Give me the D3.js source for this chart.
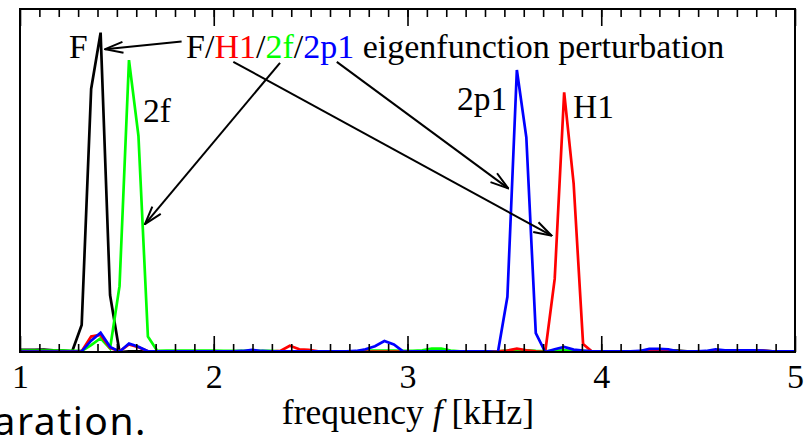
<!DOCTYPE html>
<html>
<head>
<meta charset="utf-8">
<script src="https://cdn.jsdelivr.net/npm/d3@7"></script>
<style>
  body { margin: 0; background: #fff; }
  svg { display: block; }
  .serif { font-family: "Liberation Serif", "DejaVu Serif", serif; }
</style>
</head>
<body>
<svg id="chart" width="812" height="437"></svg>
<script>
// FFT bins (48.828 Hz resolution), bin index 20..103
const binHz = 48.828125;
const bins = d3.range(20, 104);

// amplitude of each eigenfunction perturbation, one value per bin (arbitrary units)
const seriesF = [
  0.006, 0.006, 0.006, 0.007, 0.005, 0.004, 0.002, 0.079, 0.767, 0.931,
  0.166, 0.000, 0.002, 0.002, 0.002, 0.002, 0.002, 0.002, 0.002, 0.002,
  0.002, 0.002, 0.002, 0.002, 0.002, 0.002, 0.002, 0.002, 0.002, 0.002,
  0.002, 0.002, 0.002, 0.002, 0.002, 0.002, 0.002, 0.002, 0.002, 0.002,
  0.002, 0.002, 0.002, 0.002, 0.002, 0.002, 0.002, 0.002, 0.002, 0.002,
  0.002, 0.002, 0.002, 0.002, 0.002, 0.002, 0.002, 0.002, 0.002, 0.002,
  0.002, 0.002, 0.002, 0.002, 0.002, 0.002, 0.002, 0.004, 0.005, 0.004,
  0.004, 0.002, 0.002, 0.002, 0.002, 0.002, 0.002, 0.002, 0.002, 0.002,
  0.002, 0.002, 0.002, 0.002
];
const seriesH1 = [
  0.001, 0.001, 0.001, 0.001, 0.001, 0.001, 0.001, 0.002, 0.045, 0.050,
  0.012, 0.002, 0.022, 0.014, 0.002, 0.001, 0.001, 0.001, 0.001, 0.001,
  0.001, 0.001, 0.001, 0.001, 0.001, 0.001, 0.001, 0.001, 0.003, 0.018,
  0.008, 0.006, 0.002, 0.001, 0.001, 0.001, 0.001, 0.001, 0.001, 0.001,
  0.001, 0.001, 0.001, 0.001, 0.001, 0.001, 0.001, 0.001, 0.001, 0.001,
  0.001, 0.002, 0.004, 0.010, 0.005, 0.002, 0.000, 0.213, 0.757, 0.492,
  0.023, 0.000, 0.002, 0.002, 0.002, 0.002, 0.002, 0.002, 0.002, 0.002,
  0.002, 0.002, 0.002, 0.002, 0.002, 0.002, 0.002, 0.004, 0.004, 0.004,
  0.002, 0.002, 0.002, 0.002
];
const series2f = [
  0.004, 0.004, 0.004, 0.004, 0.004, 0.004, 0.003, 0.003, 0.020, 0.040,
  0.010, 0.192, 0.851, 0.630, 0.045, 0.003, 0.004, 0.004, 0.004, 0.004,
  0.004, 0.004, 0.003, 0.003, 0.003, 0.003, 0.003, 0.003, 0.002, 0.002,
  0.002, 0.002, 0.002, 0.002, 0.002, 0.002, 0.002, 0.004, 0.004, 0.004,
  0.004, 0.003, 0.003, 0.005, 0.010, 0.010, 0.004, 0.002, 0.002, 0.002,
  0.002, 0.002, 0.004, 0.006, 0.005, 0.003, 0.002, 0.004, 0.005, 0.004,
  0.003, 0.002, 0.002, 0.002, 0.002, 0.002, 0.002, 0.004, 0.004, 0.003,
  0.002, 0.002, 0.002, 0.002, 0.004, 0.004, 0.003, 0.003, 0.003, 0.003,
  0.002, 0.002, 0.002, 0.002
];
const series2p1 = [
  0.001, 0.001, 0.001, 0.001, 0.001, 0.001, 0.001, 0.002, 0.033, 0.056,
  0.015, 0.001, 0.025, 0.015, 0.002, 0.002, 0.002, 0.002, 0.002, 0.002,
  0.002, 0.002, 0.002, 0.002, 0.003, 0.006, 0.003, 0.002, 0.002, 0.002,
  0.002, 0.002, 0.002, 0.002, 0.002, 0.002, 0.003, 0.008, 0.017, 0.032,
  0.022, 0.001, 0.002, 0.002, 0.002, 0.002, 0.002, 0.002, 0.002, 0.002,
  0.002, 0.000, 0.161, 0.822, 0.626, 0.055, 0.000, 0.008, 0.015, 0.007,
  0.004, 0.002, 0.002, 0.002, 0.002, 0.002, 0.003, 0.009, 0.009, 0.008,
  0.002, 0.002, 0.002, 0.003, 0.008, 0.005, 0.005, 0.005, 0.005, 0.004,
  0.002, 0.002, 0.002, 0.002
];

const seriesList = [
  { name: "F", color: "#000000", values: seriesF },
  { name: "2f", color: "#00ff00", values: series2f },
  { name: "H1", color: "#ff0000", values: seriesH1 },
  { name: "2p1", color: "#0000ff", values: series2p1 }
];

const majorTicks = [1, 2, 3, 4, 5];
const minorTicks = d3.range(11, 50).map(d => d / 10);

// peak labels: [text, frequency kHz, amplitude]
const peakLabels = [
  ["F", 1.253, 0.857],
  ["2f", 1.635, 0.671],
  ["2p1", 3.255, 0.706],
  ["H1", 3.854, 0.682]
];
// annotation title pieces
const titleParts = [
  ["F", "#000"], ["/", "#000"], ["H1", "#ff0000"], ["/", "#000"],
  ["2f", "#00ff00"], ["/", "#000"], ["2p1", "#0000ff"],
  [" eigenfunction perturbation", "#000"]
];
const titleAt = [1.857, 0.857];
// arrows: [fromF, fromA, toF, toA]
const arrows = [
  [1.834, 0.905, 1.439, 0.883],
  [2.101, 0.846, 3.744, 0.339],
  [2.342, 0.843, 1.645, 0.373],
  [2.635, 0.846, 3.520, 0.477]
];

const svg = d3.select("#chart");
const plotLeft = 20, plotRight = 795, plotTop = 9, plotBottom = 352;

const x = d3.scaleLinear().domain([1, 5]).range([plotLeft, plotRight]);
const y = d3.scaleLinear().domain([0, 1]).range([plotBottom, plotTop]);

const defs = svg.append("defs");
defs.append("clipPath").attr("id", "plotClip")
  .append("rect")
  .attr("x", plotLeft).attr("y", plotTop)
  .attr("width", plotRight - plotLeft).attr("height", plotBottom - plotTop);

defs.append("marker")
  .attr("id", "head")
  .attr("markerUnits", "userSpaceOnUse")
  .attr("viewBox", "0 0 20 14")
  .attr("refX", 19).attr("refY", 7)
  .attr("markerWidth", 20).attr("markerHeight", 14)
  .attr("orient", "auto")
  .append("path")
  .attr("d", "M1,1.5 L19,7 L1,12.5")
  .attr("fill", "none")
  .attr("stroke", "#000")
  .attr("stroke-width", 2);

const line = d3.line()
  .x((d, i) => x(bins[i] * binHz / 1000))
  .y(d => y(d));

const plot = svg.append("g").attr("clip-path", "url(#plotClip)");
plot.selectAll("path.series")
  .data(seriesList)
  .enter()
  .append("path")
  .attr("class", "series")
  .attr("d", d => line(d.values))
  .attr("fill", "none")
  .attr("stroke", d => d.color)
  .attr("stroke-width", 2.7)
  .attr("stroke-linejoin", "miter");

// axes: ticks point inward on top and bottom
const axisStyle = g => {
  g.select(".domain").remove();
  g.selectAll("line").attr("stroke", "#000").attr("stroke-width", 1.6);
};

svg.append("g")
  .attr("transform", `translate(0,${plotBottom})`)
  .call(d3.axisBottom(x).tickValues(minorTicks).tickSize(-8).tickFormat(""))
  .call(axisStyle);
svg.append("g")
  .attr("transform", `translate(0,${plotBottom})`)
  .call(d3.axisBottom(x).tickValues(majorTicks).tickSize(-16).tickPadding(12).tickFormat(d3.format("d")))
  .call(axisStyle)
  .selectAll("text")
  .attr("class", "serif")
  .attr("fill", "#000")
  .attr("font-size", 34);
svg.append("g")
  .attr("transform", `translate(0,${plotTop})`)
  .call(d3.axisTop(x).tickValues(minorTicks).tickSize(-8).tickFormat(""))
  .call(axisStyle);
svg.append("g")
  .attr("transform", `translate(0,${plotTop})`)
  .call(d3.axisTop(x).tickValues(majorTicks).tickSize(-17).tickFormat(""))
  .call(axisStyle);

svg.append("rect")
  .attr("x", plotLeft).attr("y", plotTop)
  .attr("width", plotRight - plotLeft).attr("height", plotBottom - plotTop)
  .attr("fill", "none")
  .attr("stroke", "#000")
  .attr("stroke-width", 2);

// axis title
const xt = svg.append("text")
  .attr("class", "serif")
  .attr("x", 408).attr("y", 424)
  .attr("text-anchor", "middle")
  .attr("font-size", 35.5)
  .attr("fill", "#000");
xt.append("tspan").text("frequency ");
xt.append("tspan").attr("font-style", "italic").text("f");
xt.append("tspan").text(" [kHz]");

// peak labels
svg.selectAll("text.peak")
  .data(peakLabels)
  .enter()
  .append("text")
  .attr("class", "serif peak")
  .attr("x", d => x(d[1]))
  .attr("y", d => y(d[2]))
  .attr("font-size", 33.5)
  .attr("fill", "#000")
  .text(d => d[0]);

// annotation title
const ann = svg.append("text")
  .attr("class", "serif")
  .attr("x", x(titleAt[0]))
  .attr("y", y(titleAt[1]))
  .attr("font-size", 34)
  .style("white-space", "pre");
titleParts.forEach(p => ann.append("tspan").attr("fill", p[1]).text(p[0]));

svg.selectAll("line.arrow")
  .data(arrows)
  .enter()
  .append("line")
  .attr("class", "arrow")
  .attr("x1", d => x(d[0])).attr("y1", d => y(d[1]))
  .attr("x2", d => x(d[2])).attr("y2", d => y(d[3]))
  .attr("stroke", "#000")
  .attr("stroke-width", 2)
  .attr("marker-end", "url(#head)");

// fragment of the surrounding document text, cut by the left edge
svg.append("text")
  .attr("x", 147).attr("y", 435)
  .attr("text-anchor", "end")
  .attr("font-family", "'Noto Sans', 'DejaVu Sans', sans-serif")
  .attr("font-size", 39)
  .attr("letter-spacing", 1.5)
  .attr("fill", "#000")
  .text("paration.");
</script>
</body>
</html>
